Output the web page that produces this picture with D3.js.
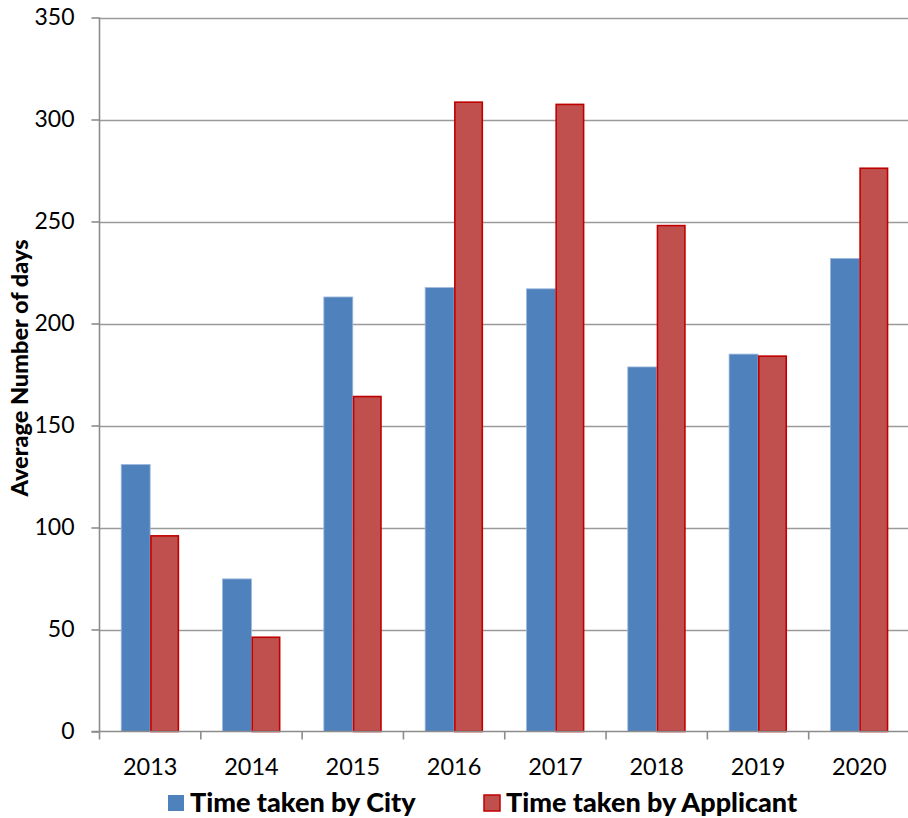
<!DOCTYPE html>
<html>
<head>
<meta charset="utf-8">
<script src="https://cdn.jsdelivr.net/npm/d3@7"></script>
<style>
  html, body { margin: 0; padding: 0; background: #fff; }
  svg { display: block; font-family: Lato, "Open Sans", sans-serif; }
</style>
</head>
<body>
<svg id="chart" width="908" height="818"></svg>
<script>
// Average processing time per year, split by who held the file
const years = ["2013", "2014", "2015", "2016", "2017", "2018", "2019", "2020"];
const cityDays = [130.9, 74.8, 213.0, 217.6, 217.0, 178.7, 185.0, 231.9];
const applicantDays = [95.9, 46.2, 164.2, 308.5, 307.4, 248.0, 184.0, 276.1];
const seriesNames = ["Time taken by City", "Time taken by Applicant"];
const yTicks = [0, 50, 100, 150, 200, 250, 300, 350];

const fills = ["#4F81BD", "#C0504D"];
const strokes = ["#9DB9DD", "#C00000"];

const svg = d3.select("#chart");
const plotLeft = 99.5, plotTop = 17.5, plotBottom = 731.5, plotRight = 910;

const x = d3.scaleBand().domain(years).range([plotLeft, plotRight]).padding(0);
const xs = d3.scaleBand().domain([0, 1]).range([0, x.bandwidth()])
  .paddingInner(0).paddingOuter(0.75);
const y = d3.scaleLinear().domain([0, 350]).range([plotBottom, plotTop]);

// horizontal gridlines
svg.append("g").selectAll("line").data(yTicks.slice(1)).join("line")
  .attr("x1", plotLeft).attr("x2", 908)
  .attr("y1", d => Math.round(y(d)) + 0.5).attr("y2", d => Math.round(y(d)) + 0.5)
  .attr("stroke", "#9a9a9a").attr("stroke-width", 1.6);

// bars
const rows = years.map((yr, i) => ({ yr, vals: [cityDays[i], applicantDays[i]] }));
const groups = svg.append("g").selectAll("g").data(rows).join("g")
  .attr("transform", d => `translate(${x(d.yr)},0)`);
groups.selectAll("rect").data(d => d.vals.map((v, k) => ({ v, k }))).join("rect")
  .attr("x", d => xs(d.k) + (d.k === 1 ? 0.75 : 0))
  .attr("width", d => xs.bandwidth() - (d.k === 1 ? 1.5 : 0))
  .attr("y", d => y(d.v))
  .attr("height", d => y(0) - y(d.v))
  .attr("fill", d => fills[d.k])
  .attr("stroke", d => strokes[d.k])
  .attr("stroke-width", d => d.k === 1 ? 1.6 : 0.8);

// y axis
const yAxis = d3.axisLeft(y).tickValues(yTicks).tickSize(8).tickPadding(17);
const gy = svg.append("g").attr("transform", `translate(${plotLeft},0)`).call(yAxis);
gy.select(".domain").attr("stroke", "#8c8c8c").attr("stroke-width", 1.6)
  .attr("d", `M0,${plotTop}V${plotBottom}`);
gy.selectAll(".tick line").attr("stroke", "#8c8c8c").attr("stroke-width", 1.6);
gy.selectAll(".tick text").attr("font-size", 23).attr("fill", "#000")
  .attr("font-family", "Lato, sans-serif");

// x axis: ticks sit at the category boundaries
const gx = svg.append("g").attr("transform", `translate(0,${plotBottom})`);
gx.append("line").attr("x1", plotLeft - 8).attr("x2", 908)
  .attr("stroke", "#8c8c8c").attr("stroke-width", 1.6);
gx.selectAll("line.tk").data(years).join("line").attr("class", "tk")
  .attr("x1", d => x(d)).attr("x2", d => x(d)).attr("y1", 0).attr("y2", 8)
  .attr("stroke", "#8c8c8c").attr("stroke-width", 1.6);
gx.selectAll("text").data(years).join("text")
  .attr("x", d => x(d) + x.bandwidth() / 2).attr("y", 43)
  .attr("text-anchor", "middle").attr("font-size", 23.5).text(d => d);

// y axis title
svg.append("text")
  .attr("transform", "translate(28,368) rotate(-90)")
  .attr("text-anchor", "middle").attr("font-size", 23.5).attr("font-weight", 900)
  .text("Average Number of days");

// legend
const legendX = [167, 483];
const lg = svg.append("g").selectAll("g").data(seriesNames).join("g")
  .attr("transform", (d, i) => `translate(${legendX[i]},794)`);
lg.append("rect").attr("x", 1).attr("y", 1).attr("width", 16).attr("height", 16)
  .attr("fill", (d, i) => fills[i]).attr("stroke", (d, i) => i === 1 ? strokes[1] : "none")
  .attr("stroke-width", 1.5);
lg.append("text").attr("x", 23).attr("y", 18)
  .attr("font-size", 27).attr("font-weight", 900).text(d => d);
</script>
</body>
</html>
